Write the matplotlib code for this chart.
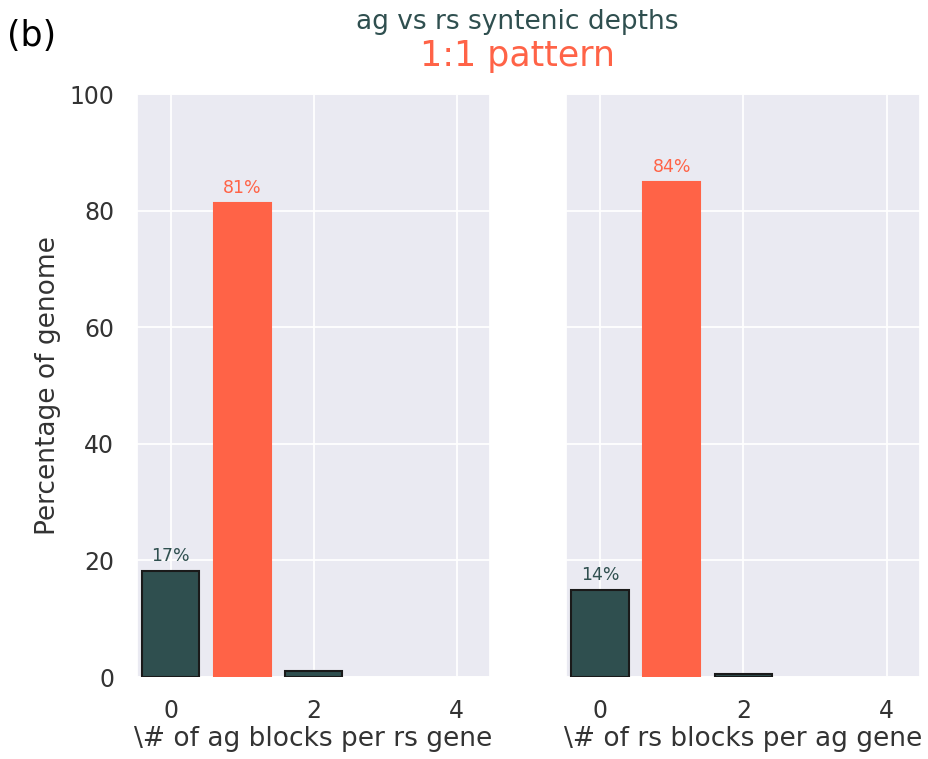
import matplotlib
matplotlib.use("Agg")
import matplotlib.pyplot as plt
import seaborn as sns

sns.set_theme(style="darkgrid")
plt.rcParams['font.family'] = ['DejaVu Sans']

DARK = "#2F4F4F"
TOMATO = "#FF6347"

depths = [0, 1, 2]
left_values = [18.2, 81.4, 1.1]
right_values = [14.9, 85.0, 0.5]
left_labels = ["17%", "81%", ""]
right_labels = ["14%", "84%", ""]
bar_colors = [DARK, TOMATO, DARK]
xticks = [0, 2, 4]
yticks = [0, 20, 40, 60, 80, 100]
left_xlabel = r"\# of ag blocks per rs gene"
right_xlabel = r"\# of rs blocks per ag gene"

fig = plt.figure(figsize=(9.29, 7.59), dpi=100)
ax1 = fig.add_axes([0.147, 0.108, 0.380, 0.768])
ax2 = fig.add_axes([0.609, 0.108, 0.381, 0.768], sharey=ax1)

for ax, vals, labs, xl in [(ax1, left_values, left_labels, left_xlabel),
                           (ax2, right_values, right_labels, right_xlabel)]:
    for x, v, c, lab in zip(depths, vals, bar_colors, labs):
        if c == DARK:
            ax.bar(x, v, width=0.8, color=c, edgecolor="#1a1a1a", linewidth=1.5, zorder=3)
        else:
            ax.bar(x, v, width=0.8, color=c, edgecolor=c, linewidth=1.5, zorder=3)
        if lab:
            ax.text(x, v + 1.0, lab, ha="center", va="bottom", color=c, fontsize=12.5)
    ax.set_xlim(-0.48, 4.46)
    ax.set_ylim(0, 100)
    ax.set_xticks(xticks)
    ax.set_yticks(yticks)
    ax.tick_params(axis="both", labelsize=17, colors="#333333", pad=10)
    ax.set_xlabel(xl, fontsize=19, color="#333333", labelpad=2)
    ax.grid(True, color="white", linewidth=1.3)

ax1.set_ylabel("Percentage of genome", fontsize=19, color="#333333", labelpad=6)
plt.setp(ax2.get_yticklabels(), visible=False)
ax2.tick_params(axis="y", length=0)

fig.text(0.557, 0.971, "ag vs rs syntenic depths", ha="center", va="center",
         fontsize=19, color=DARK)
fig.text(0.557, 0.926, "1:1 pattern", ha="center", va="center",
         fontsize=25, color=TOMATO)
fig.text(0.008, 0.953, "(b)", ha="left", va="center", fontsize=25, color="black")

fig.savefig("out.png", dpi=100)
